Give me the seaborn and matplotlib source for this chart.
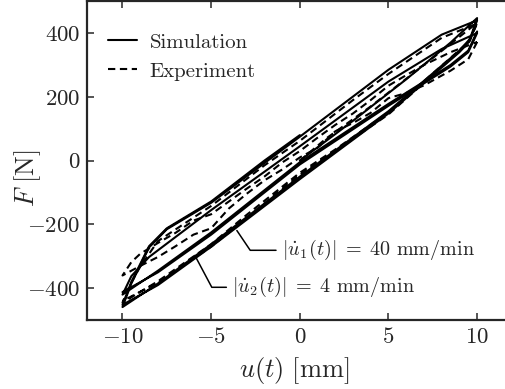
import numpy as np
import pandas as pd
import seaborn as sns
import matplotlib.pyplot as plt
from matplotlib.lines import Line2D

# simulation, |u'| = 40 mm/min (widest loop, two cycles)
sim1_u = [0, 3, 6, 8.5, 10,
          9.6, 9, 5, 0, -5, -8, -10,
          -9.5, -8.5, -7.5, -5, 0, 5, 8, 10,
          9.6, 9, 5, 0, -5, -8, -10,
          -9.5, -8.5, -7.5, -5, -2, 0]
sim1_F = [0, 125, 255, 370, 447,
          382, 345, 155, -50, -262, -385, -459,
          -385, -272, -215, -132, 75, 285, 395, 440,
          376, 340, 148, -58, -270, -390, -452,
          -380, -268, -212, -128, 0, 80]

# simulation, |u'| = 4 mm/min
sim2_u = [10, 9.5, 8.5, 5, 0, -5, -8, -10,
          -9.5, -8.5, -5, 0, 5, 8, 10,
          9.5, 8.5, 5, 0, -5, -8, -10]
sim2_F = [405, 345, 300, 178, -5, -225, -345, -420,
          -362, -302, -155, 45, 248, 350, 400,
          340, 295, 172, -12, -232, -350, -412]

# experiment, |u'| = 40 mm/min
exp1_u = [0, 1.5, 4, 7, 10,
          9.5, 8.5, 5, 2, 0, -3, -5, -8, -10,
          -9.6, -9, -8, -5, -2, 0, 3, 5, 8, 10,
          9.5, 8.5, 5, 0, -5, -8, -10]
exp1_F = [0, 70, 170, 300, 432,
          372, 322, 152, 35, -38, -170, -262, -378, -445,
          -392, -332, -252, -142, -15, 62, 190, 272, 385, 430,
          368, 318, 145, -45, -270, -382, -440]

# experiment, |u'| = 4 mm/min (noisy)
exp2_u = [10, 9.5, 8.5, 7, 6, 5, 4, 3, 2, 1, 0, -1, -2, -3, -4, -5, -6, -7, -8, -9, -10,
          -9.5, -9, -8, -7, -6, -5, -4, -3, -2, -1, 0, 1, 2, 3, 4, 5, 6, 7, 8.5, 10]
exp2_F = [372, 318, 282, 236, 212, 196, 150, 118, 92, 40, 10, -28, -62, -104, -150, -212, -232, -268, -302, -330, -360,
          -318, -292, -258, -226, -188, -168, -128, -88, -50, -6, 30, 72, 112, 148, 190, 235, 268, 300, 340, 372]

xticks = [-10, -5, 0, 5, 10]
yticks = [-400, -200, 0, 200, 400]

frames = []
for name, kind, u, F in [("sim1", "Simulation", sim1_u, sim1_F),
                         ("sim2", "Simulation", sim2_u, sim2_F),
                         ("exp1", "Experiment", exp1_u, exp1_F),
                         ("exp2", "Experiment", exp2_u, exp2_F)]:
    frames.append(pd.DataFrame({"u": u, "F": F, "curve": name, "kind": kind}))
df = pd.concat(frames, ignore_index=True)

sns.set_style("ticks")
plt.rcParams["font.family"] = "serif"
plt.rcParams["font.serif"] = ["cmr10", "DejaVu Serif"]
plt.rcParams["mathtext.fontset"] = "cm"
plt.rcParams["axes.formatter.use_mathtext"] = True

fig = plt.figure(figsize=(5.06, 3.89), dpi=100)
ax = fig.add_axes([0.172, 0.177, 0.841, 0.820])

sns.lineplot(data=df, x="u", y="F", units="curve", style="kind", estimator=None, sort=False,
             color="black", linewidth=1.5, dashes={"Simulation": "", "Experiment": (3.5, 2.2)},
             legend=False, ax=ax)

ax.set_xlim(-12, 12)
ax.set_ylim(-500, 500)
ax.set_xticks(xticks)
ax.set_yticks(yticks)
ax.tick_params(direction="in", length=5, width=1.1, top=True, right=True, labelsize=16.5, pad=5)
for s in ax.spines.values():
    s.set_linewidth(1.6)
ax.spines["right"].set_visible(False)

ax.set_xlabel(r"$u(t)\ [\mathrm{mm}]$", fontsize=19)
ax.set_ylabel(r"$F\ [\mathrm{N}]$", fontsize=19)
ax.xaxis.set_label_coords(0.486, -0.108)
ax.yaxis.set_label_coords(-0.104, 0.445)

handles = [Line2D([], [], color="black", lw=1.5, ls="-"),
           Line2D([], [], color="black", lw=1.5, ls=(0, (3.5, 2.2)))]
ax.legend(handles, ["Simulation", "Experiment"], loc="upper left", frameon=False,
          bbox_to_anchor=(0.049, 0.90), borderaxespad=0, borderpad=0,
          fontsize=15, handlelength=1.4, handletextpad=0.6, labelspacing=0.5)

ax.annotate(r"$|\dot{u}_1(t)|\;=\;40$ mm/min", xy=(-3.55, -219), xytext=(-1.0, -281),
            fontsize=14.5, ha="left", va="center",
            arrowprops=dict(arrowstyle="-", color="black", lw=1.1, shrinkB=0,
                            connectionstyle="angle,angleA=0,angleB=124,rad=0"))
ax.annotate(r"$|\dot{u}_2(t)|\;=\;4$ mm/min", xy=(-5.92, -297), xytext=(-3.8, -397),
            fontsize=14.5, ha="left", va="center",
            arrowprops=dict(arrowstyle="-", color="black", lw=1.1, shrinkB=0,
                            connectionstyle="angle,angleA=0,angleB=118,rad=0"))

fig.savefig("out.png", dpi=100)
